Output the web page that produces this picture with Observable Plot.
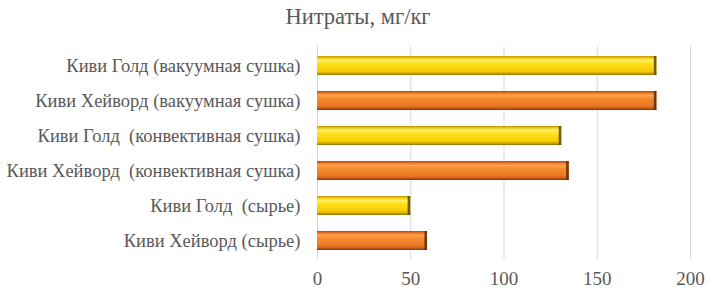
<!DOCTYPE html>
<html><head><meta charset="utf-8">
<script src="https://cdn.jsdelivr.net/npm/d3@7"></script>
<script src="https://cdn.jsdelivr.net/npm/@observablehq/plot@0.6"></script>
<style>
body{margin:0;background:#fff;width:710px;height:295px;overflow:hidden}
</style></head>
<body>
<div id="title" style="height:38px;line-height:33px;text-align:center;font-family:'Liberation Serif', serif;font-size:22.5px;color:#595959;padding-left:6px">Нитраты, мг/кг</div>
<div id="chart"></div>
<script>
const categories = [
  "Киви Голд (вакуумная сушка)",
  "Киви Хейворд (вакуумная сушка)",
  "Киви Голд  (конвективная сушка)",
  "Киви Хейворд  (конвективная сушка)",
  "Киви Голд  (сырье)",
  "Киви Хейворд (сырье)"
];
const values = [182, 182, 131, 135, 50, 59];
const varieties = ["gold", "hayward", "gold", "hayward", "gold", "hayward"];
const xTicks = [0, 50, 100, 150, 200];

const data = categories.map((c, i) => ({category: c, value: values[i], variety: varieties[i]}));

const chart = Plot.plot({
  width: 710,
  height: 257,
  marginTop: 8,
  marginBottom: 36,
  marginLeft: 317,
  marginRight: 20,
  style: {fontFamily: "'Liberation Serif', serif", fontSize: "18.5px", color: "#595959", background: "#fff"},
  x: {domain: [0, 200], ticks: xTicks, label: null, tickSize: 0, tickPadding: 12},
  y: {domain: categories, label: null, paddingInner: 0.46, paddingOuter: 0.23, tickSize: 0, tickPadding: 17},
  marks: [
    Plot.gridX(xTicks, {stroke: "#d9d9d9", strokeOpacity: 1, strokeWidth: 1}),
    Plot.barX(data, {y: "category", x: "value", fill: d => d.variety === "gold" ? "url(#gGold)" : "url(#gOrange)", inset: 0}),
    Plot.barX(data, {y: "category", x1: d => d.value - 1.4, x2: "value", fill: d => d.variety === "gold" ? "#5a4a00" : "#5a2a08", fillOpacity: 0.85}),
    Plot.ruleY([0], {frameAnchor: "bottom", stroke: "#8c8c8c", strokeWidth: 2}),
    Plot.axisX({ticks: xTicks, tickSize: 0, tickPadding: 12, fontSize: 19}),
    Plot.axisY({tickSize: 0, tickPadding: 17, fontSize: 18.5})
  ]
});

const svg = d3.select(chart);
svg.selectAll("text").style("font-family", "'Liberation Serif', serif");
const defs = svg.insert("defs", ":first-child");
function grad(id, stops) {
  const g = defs.append("linearGradient").attr("id", id).attr("x1", 0).attr("y1", 0).attr("x2", 0).attr("y2", 1);
  stops.forEach(([o, c]) => g.append("stop").attr("offset", o).attr("stop-color", c));
}
grad("gGold", [[0, "#b89200"], [0.08, "#e6c200"], [0.22, "#fff06a"], [0.4, "#ffe01a"], [0.8, "#f5cc00"], [0.92, "#c9a000"], [1, "#8a6d00"]]);
grad("gOrange", [[0, "#a84a12"], [0.08, "#e06a1f"], [0.22, "#ffa64d"], [0.4, "#f58a2e"], [0.8, "#ea7424"], [0.92, "#b8561a"], [1, "#7a3510"]]);
document.getElementById("chart").appendChild(chart);
</script>
</body></html>
